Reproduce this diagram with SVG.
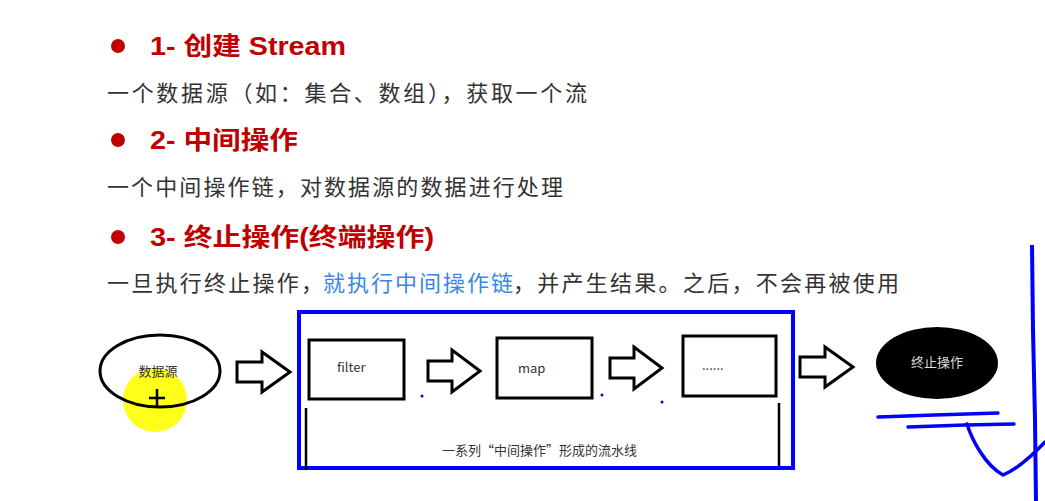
<svg xmlns="http://www.w3.org/2000/svg" width="1045" height="501" viewBox="0 0 1045 501">
<style>
.h{font-family:"Liberation Sans","Noto Sans CJK SC",sans-serif;font-weight:bold;font-size:25px;fill:#C00000}
.t{font-family:"Noto Sans CJK SC",sans-serif;font-size:22px;fill:#333}
.b{fill:#3A86E8}
.box{fill:#fff;stroke:#000;stroke-width:3}
.lbl{font-family:"Noto Sans CJK SC",sans-serif;font-size:13px;fill:#333}
.arr{fill:#fff;stroke:#000;stroke-width:3;stroke-linejoin:miter}
.pen{fill:none;stroke:#0000FF;stroke-width:3.5;stroke-linecap:round;stroke-linejoin:round}
</style>
<rect width="1045" height="501" fill="#fff"/>
<g id="text">
<circle cx="118" cy="46" r="7" fill="#C00000"/>
<text class="h" x="150" y="55" textLength="196" lengthAdjust="spacingAndGlyphs">1- 创建 Stream</text>
<text class="t" x="107" y="101" textLength="480" lengthAdjust="spacing">一个数据源（如：集合、数组），获取一个流</text>
<circle cx="118" cy="140" r="7" fill="#C00000"/>
<text class="h" x="150" y="149" textLength="148" lengthAdjust="spacingAndGlyphs">2- 中间操作</text>
<text class="t" x="107" y="195" textLength="456" lengthAdjust="spacing">一个中间操作链，对数据源的数据进行处理</text>
<circle cx="118" cy="237" r="7" fill="#C00000"/>
<text class="h" x="150" y="246" textLength="284" lengthAdjust="spacingAndGlyphs">3- 终止操作(终端操作)</text>
<text class="t" y="291"><tspan x="107" textLength="216" lengthAdjust="spacing">一旦执行终止操作，</tspan><tspan class="b" x="323" textLength="190" lengthAdjust="spacing">就执行中间操作链</tspan><tspan x="513" textLength="386" lengthAdjust="spacing">，并产生结果。之后，不会再被使用</tspan></text>
</g>
<g id="source">
<circle cx="155" cy="400" r="32" fill="#FFFF00" opacity="0.9"/>
<ellipse cx="160" cy="371" rx="60" ry="36" fill="none" stroke="#000" stroke-width="3"/>
<text class="lbl" x="158" y="376" text-anchor="middle">数据源</text>
<path d="M157 389v18M149 398h16" stroke="#000" stroke-width="2.5"/>
</g>
<g id="pipeline">
<rect x="299" y="312" width="494" height="156" fill="none" stroke="#0000FF" stroke-width="4"/>
<line x1="306" y1="408" x2="306" y2="470" stroke="#000" stroke-width="2.5"/>
<line x1="779" y1="403" x2="779" y2="466" stroke="#000" stroke-width="2.5"/>
<text class="lbl" x="442" y="455">一系列“中间操作”形成的流水线</text>
</g>
<g id="filter">
<rect class="box" x="309" y="340" width="95" height="59"/>
<text class="lbl" x="337" y="372" font-family="'Liberation Sans',sans-serif">filter</text>
</g>
<g id="map">
<rect class="box" x="497" y="338" width="95" height="60"/>
<text class="lbl" x="518" y="373" font-family="'Liberation Sans',sans-serif">map</text>
</g>
<g id="more">
<rect class="box" x="683" y="336" width="93" height="60"/>
<text class="lbl" x="702" y="370" font-family="'Liberation Sans',sans-serif" font-size="10">......</text>
</g>
<g id="terminal">
<ellipse cx="937" cy="363" rx="61" ry="36" fill="#000"/>
<text class="lbl" x="937" y="367" text-anchor="middle" style="fill:#ddd">终止操作</text>
</g>
<g id="connectors">
<path class="arr" d="M237 362h25v-10l28 20l-28 20v-10h-25z"/>
<path class="arr" d="M428 361h24v-11l28 21l-28 21v-11h-24z"/>
<path class="arr" d="M610 358h24v-11l28 21l-28 21v-11h-24z"/>
<path class="arr" d="M800 357h25v-10l28 20l-28 20v-10h-25z"/>
</g>
<g id="annotations">
<circle cx="422" cy="396" r="1.5" fill="#0000FF"/>
<circle cx="602" cy="395" r="1.5" fill="#0000FF"/>
<circle cx="662" cy="402" r="1.5" fill="#0000FF"/>
<path class="pen" d="M878 417L935 415L998 413"/>
<path class="pen" d="M908 427L965 425L1014 424"/>
<path class="pen" d="M967 424C972 440 985 465 1003 475C1015 470 1030 458 1045 442"/>
<line x1="1032" y1="245" x2="1033" y2="330" stroke="#0000FF" stroke-width="4"/>
<line x1="1033" y1="330" x2="1035" y2="420" stroke="#0000FF" stroke-width="4"/>
<line x1="1035" y1="420" x2="1036" y2="501" stroke="#0000FF" stroke-width="4"/>
</g>
</svg>
